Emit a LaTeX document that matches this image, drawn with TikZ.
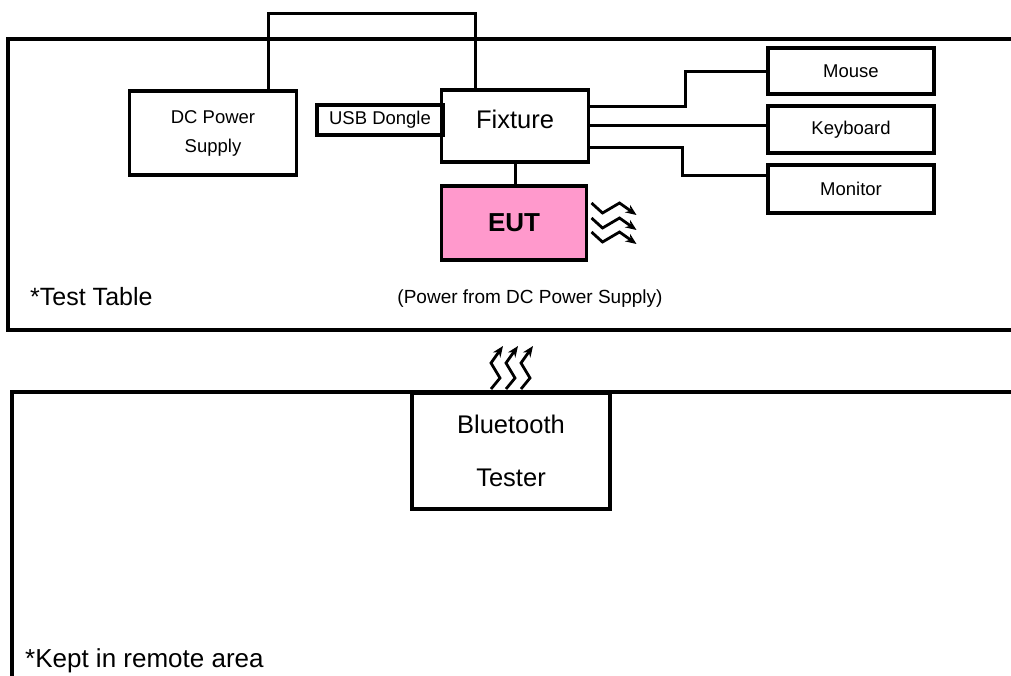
\documentclass[tikz,border=0pt]{standalone}
\usepackage{fontspec}
\setmainfont{Liberation Sans}
\usetikzlibrary{arrows.meta,positioning}
\definecolor{eutpink}{HTML}{FF99CC}

\begin{document}
\begin{tikzpicture}[>=Stealth,x=1pt,y=-1pt,
  box/.style={draw,line width=3.4pt,inner sep=0pt,outer sep=0pt,align=center,font=\fontsize{18.5}{29}\selectfont},
  frame/.style={line width=3.4pt},
  wire/.style={line width=3pt},
  wave/.style={line width=2.8pt,-{Stealth[length=11pt,width=9pt]}}]
\useasboundingbox (0,0) rectangle (1011,675);
\draw[frame] (8,39) rectangle (1040,330);
\draw[frame] (12,392) rectangle (1040,720);
\node[box,minimum width=167,minimum height=84] (dcps) at (213,133) {DC Power\\Supply};
\node[box,minimum width=126,minimum height=30] (usb) at (380,120) {USB Dongle};
\node[box,minimum width=147,minimum height=72,text depth=14pt,font=\fontsize{25.5}{30}\selectfont] (fixture) at (515,126) {Fixture};
\node[box,fill=eutpink,minimum width=145,minimum height=74,font=\bfseries\fontsize{26}{30}\selectfont] (eut) at (514,223) {EUT};
\node[box,minimum width=166,minimum height=46] (mouse) at (851,71) {Mouse};
\node[box,minimum width=166,minimum height=47] (keyboard) at (851,129.5) {Keyboard};
\node[box,minimum width=166,minimum height=48] (monitor) at (851,189) {Monitor};
\node[box,minimum width=198,minimum height=116,font=\fontsize{25.5}{53}\selectfont] (bt) at (511,451) {Bluetooth\\Tester};
\node[anchor=base west,inner sep=0pt,font=\fontsize{25}{30}\selectfont] (tablelbl) at (30,305) {*Test Table};
\node[anchor=base,inner sep=0pt,font=\fontsize{19}{22}\selectfont] (powerlbl) at (530,303) {(Power from DC Power Supply)};
\node[anchor=base west,inner sep=0pt,font=\fontsize{26}{30}\selectfont] (remotelbl) at (25,667) {*Kept in remote area};
\draw[wire] ([xshift=55]dcps.north) -- ++(0,-78) -| ([xshift=-40]fixture.north);
\draw[wire] (fixture.south) -- (fixture.south |- eut.north);
\draw[wire] ([yshift=-16]fixture.north east) -- ++(97,0) |- (mouse.west);
\draw[wire] ([yshift=-35]fixture.north east) -- ([yshift=4.5]keyboard.west);
\draw[wire] ([yshift=-57]fixture.north east) -- ++(94,0) |- ([yshift=14]monitor.west);
\draw[wave] ([shift={(5,-20)}]eut.east) -- ++(11,10) -- ++(17,-10) -- ++(17,12);
\draw[wave] ([shift={(5,-5)}]eut.east) -- ++(11,10) -- ++(17,-10) -- ++(17,12);
\draw[wave] ([shift={(5,9)}]eut.east) -- ++(11,10) -- ++(17,-10) -- ++(17,12);
\draw[wave] ([shift={(-20,-4)}]bt.north) -- ++(9,-11) -- ++(-9,-15) -- ++(12,-17);
\draw[wave] ([shift={(-5,-4)}]bt.north) -- ++(9,-11) -- ++(-9,-15) -- ++(12,-17);
\draw[wave] ([shift={(10,-4)}]bt.north) -- ++(9,-11) -- ++(-9,-15) -- ++(12,-17);
\end{tikzpicture}
\end{document}
